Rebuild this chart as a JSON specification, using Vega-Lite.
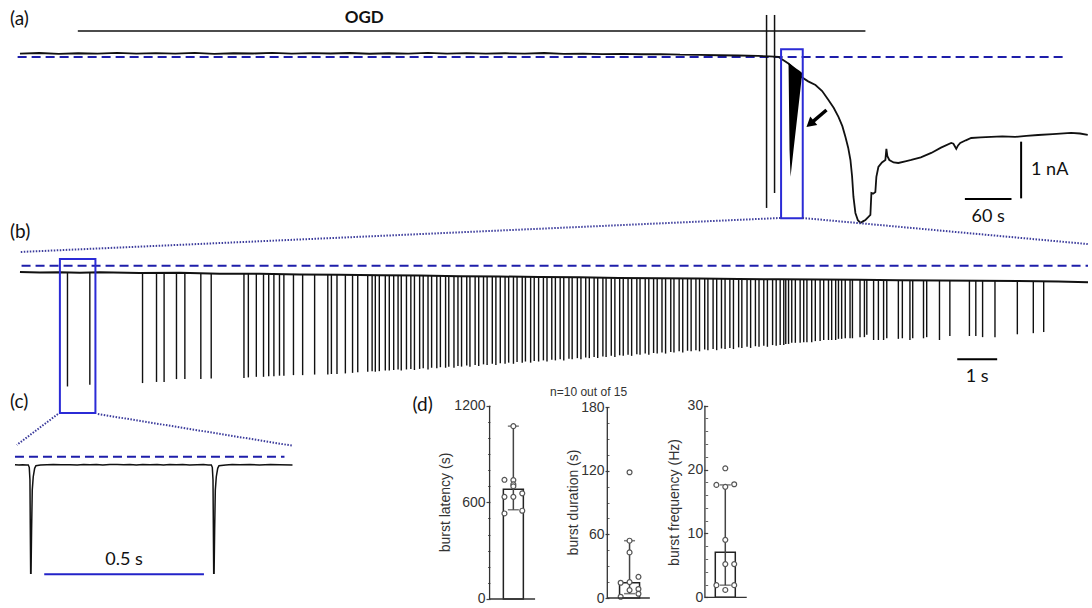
{
"$schema":"https://vega.github.io/schema/vega-lite/v6.json",
"width":1092,"height":608,
"autosize":{"type":"fit","contains":"padding"},
"padding":0,
"background":"white",
"config":{"view":{"stroke":null},"font":"Lato"},
"datasets":{
"traceA":[{"t":0,"I":0.06},{"t":25,"I":0.07},{"t":50,"I":0.055},{"t":75,"I":0.066},{"t":100,"I":0.06},{"t":125,"I":0.072},{"t":150,"I":0.058},{"t":175,"I":0.067},{"t":200,"I":0.06},{"t":225,"I":0.071},{"t":250,"I":0.056},{"t":275,"I":0.066},{"t":300,"I":0.061},{"t":325,"I":0.073},{"t":350,"I":0.058},{"t":375,"I":0.067},{"t":400,"I":0.061},{"t":425,"I":0.07},{"t":450,"I":0.057},{"t":475,"I":0.066},{"t":500,"I":0.06},{"t":525,"I":0.072},{"t":550,"I":0.06},{"t":575,"I":0.068},{"t":600,"I":0.058},{"t":625,"I":0.066},{"t":650,"I":0.06},{"t":675,"I":0.07},{"t":700,"I":0.055},{"t":725,"I":0.06},{"t":750,"I":0.05},{"t":775,"I":0.056},{"t":800,"I":0.048},{"t":825,"I":0.05},{"t":850,"I":0.04},{"t":875,"I":0.038},{"t":900,"I":0.03},{"t":925,"I":0.026},{"t":950,"I":0.018},{"t":965,"I":0.01},{"t":977,"I":0.0},{"t":980.7,"I":-0.035},{"t":990,"I":-0.12},{"t":1000,"I":-0.25},{"t":1006.4,"I":-0.353},{"t":1015,"I":-0.43},{"t":1024.4,"I":-0.494},{"t":1033,"I":-0.6},{"t":1041.1,"I":-0.758},{"t":1048,"I":-0.9},{"t":1054,"I":-1.058},{"t":1059,"I":-1.22},{"t":1063,"I":-1.411},{"t":1066.5,"I":-1.6},{"t":1069.4,"I":-1.817},{"t":1071.5,"I":-2.1},{"t":1073.3,"I":-2.469},{"t":1075.8,"I":-2.751},{"t":1079,"I":-2.88},{"t":1082.3,"I":-2.928},{"t":1085.5,"I":-2.9},{"t":1088.7,"I":-2.875},{"t":1092,"I":-2.83},{"t":1095.1,"I":-2.787},{"t":1096.4,"I":-2.399},{"t":1099,"I":-2.41},{"t":1101.5,"I":-2.381},{"t":1102.8,"I":-2.116},{"t":1105.4,"I":-1.94},{"t":1110,"I":-1.86},{"t":1114.4,"I":-1.817},{"t":1115.7,"I":-1.62},{"t":1117,"I":-1.75},{"t":1119.5,"I":-1.817},{"t":1125,"I":-1.86},{"t":1131.1,"I":-1.87},{"t":1140,"I":-1.84},{"t":1147.8,"I":-1.817},{"t":1160,"I":-1.77},{"t":1173.5,"I":-1.693},{"t":1186,"I":-1.6},{"t":1199.2,"I":-1.517},{"t":1202,"I":-1.53},{"t":1205.7,"I":-1.62},{"t":1208,"I":-1.56},{"t":1210.8,"I":-1.517},{"t":1218,"I":-1.47},{"t":1224.9,"I":-1.429},{"t":1237,"I":-1.42},{"t":1250.6,"I":-1.411},{"t":1265,"I":-1.4},{"t":1281.5,"I":-1.411},{"t":1296,"I":-1.39},{"t":1311.1,"I":-1.376},{"t":1330,"I":-1.36},{"t":1353.5,"I":-1.34},{"t":1365,"I":-1.35},{"t":1375,"I":-1.376}],
"artifactsA":[{"t":961.4,"top":0.741,"bottom":-2.663},{"t":971.7,"top":0.741,"bottom":-2.399}],
"burstA":[{"t":989.7,"top":-0.106,"bot":-0.123},{"t":991.0,"top":-0.118,"bot":-1.64},{"t":992.3,"top":-0.13,"bot":-2.111},{"t":996.1,"top":-0.169,"bot":-1.642},{"t":1000,"top":-0.206,"bot":-1.173},{"t":1003.9,"top":-0.245,"bot":-0.705},{"t":1007.3,"top":-0.282,"bot":-0.282}],
"baseB":[{"t":0,"I":-0.11},{"t":0.5,"I":-0.12},{"t":1,"I":-0.115},{"t":1.5,"I":-0.125},{"t":2,"I":-0.115},{"t":3,"I":-0.13},{"t":4,"I":-0.125},{"t":5,"I":-0.14},{"t":6,"I":-0.14},{"t":7,"I":-0.155},{"t":8,"I":-0.16},{"t":9,"I":-0.17},{"t":10,"I":-0.175},{"t":11,"I":-0.185},{"t":12,"I":-0.19},{"t":13,"I":-0.2},{"t":14,"I":-0.205},{"t":15,"I":-0.215},{"t":16,"I":-0.22},{"t":17,"I":-0.225},{"t":18,"I":-0.235},{"t":19,"I":-0.24},{"t":20,"I":-0.245},{"t":21,"I":-0.25},{"t":22,"I":-0.255},{"t":23,"I":-0.26},{"t":24,"I":-0.265},{"t":25,"I":-0.27},{"t":26,"I":-0.28},{"t":26.75,"I":-0.29}],
"spikesB":[{"t":1.19,"lo":-2.13,"base":-0.12},{"t":1.75,"lo":-2.1,"base":-0.12},{"t":3.07,"lo":-2.07,"base":-0.13},{"t":3.42,"lo":-2.05,"base":-0.13},{"t":3.61,"lo":-2.05,"base":-0.13},{"t":3.92,"lo":-2.0,"base":-0.135},{"t":4.13,"lo":-2.0,"base":-0.135},{"t":4.53,"lo":-2.0,"base":-0.14},{"t":4.79,"lo":-1.99,"base":-0.14},{"t":5.61,"lo":-1.98,"base":-0.145},{"t":5.72,"lo":-1.97,"base":-0.145},{"t":5.92,"lo":-1.96,"base":-0.145},{"t":6.1,"lo":-1.96,"base":-0.15},{"t":6.23,"lo":-1.95,"base":-0.15},{"t":6.36,"lo":-1.95,"base":-0.15},{"t":6.5,"lo":-1.94,"base":-0.15},{"t":6.61,"lo":-1.94,"base":-0.15},{"t":6.85,"lo":-1.93,"base":-0.155},{"t":7.08,"lo":-1.93,"base":-0.155},{"t":7.38,"lo":-1.92,"base":-0.16},{"t":7.71,"lo":-1.92,"base":-0.16},{"t":7.8,"lo":-1.91,"base":-0.16},{"t":7.94,"lo":-1.91,"base":-0.16},{"t":8.15,"lo":-1.9,"base":-0.165},{"t":8.33,"lo":-1.89,"base":-0.165},{"t":8.46,"lo":-1.88,"base":-0.165},{"t":8.71,"lo":-1.87,"base":-0.17},{"t":8.82,"lo":-1.86,"base":-0.17},{"t":8.9,"lo":-1.87,"base":-0.17},{"t":9.0,"lo":-1.86,"base":-0.17},{"t":9.15,"lo":-1.85,"base":-0.17},{"t":9.25,"lo":-1.85,"base":-0.17},
{"t":9.36,"lo":-1.84,"base":-0.17},{"t":9.47,"lo":-1.83,"base":-0.17},{"t":9.55,"lo":-1.85,"base":-0.17},{"t":9.68,"lo":-1.83,"base":-0.175},{"t":9.79,"lo":-1.82,"base":-0.175},{"t":9.88,"lo":-1.84,"base":-0.175},{"t":10.01,"lo":-1.82,"base":-0.175},{"t":10.1,"lo":-1.81,"base":-0.18},{"t":10.22,"lo":-1.83,"base":-0.18},{"t":10.31,"lo":-1.8,"base":-0.18},{"t":10.44,"lo":-1.81,"base":-0.18},{"t":10.53,"lo":-1.79,"base":-0.18},{"t":10.66,"lo":-1.8,"base":-0.185},{"t":10.74,"lo":-1.78,"base":-0.185},{"t":10.87,"lo":-1.8,"base":-0.185},{"t":10.97,"lo":-1.77,"base":-0.185},{"t":11.06,"lo":-1.78,"base":-0.185},{"t":11.19,"lo":-1.76,"base":-0.19},{"t":11.27,"lo":-1.78,"base":-0.19},{"t":11.4,"lo":-1.75,"base":-0.19},{"t":11.49,"lo":-1.77,"base":-0.19},{"t":11.61,"lo":-1.74,"base":-0.19},{"t":11.7,"lo":-1.75,"base":-0.19},{"t":11.83,"lo":-1.73,"base":-0.195},{"t":11.92,"lo":-1.75,"base":-0.195},{"t":12.03,"lo":-1.72,"base":-0.195},{"t":12.15,"lo":-1.73,"base":-0.195},{"t":12.24,"lo":-1.71,"base":-0.195},{"t":12.36,"lo":-1.73,"base":-0.2},{"t":12.45,"lo":-1.7,"base":-0.2},{"t":12.58,"lo":-1.71,"base":-0.2},{"t":12.66,"lo":-1.69,"base":-0.2},{"t":12.79,"lo":-1.71,"base":-0.2},{"t":12.88,"lo":-1.68,"base":-0.2},{"t":12.99,"lo":-1.69,"base":-0.205},{"t":13.11,"lo":-1.67,"base":-0.205},{"t":13.2,"lo":-1.69,"base":-0.205},{"t":13.32,"lo":-1.66,"base":-0.205},{"t":13.41,"lo":-1.67,"base":-0.205},{"t":13.53,"lo":-1.65,"base":-0.21},{"t":13.62,"lo":-1.67,"base":-0.21},{"t":13.75,"lo":-1.64,"base":-0.21},{"t":13.83,"lo":-1.65,"base":-0.21},{"t":13.96,"lo":-1.63,"base":-0.21},{"t":14.05,"lo":-1.65,"base":-0.21},{"t":14.17,"lo":-1.62,"base":-0.215},{"t":14.26,"lo":-1.63,"base":-0.215},{"t":14.38,"lo":-1.61,"base":-0.215},{"t":14.47,"lo":-1.63,"base":-0.215},{"t":14.6,"lo":-1.6,"base":-0.215},{"t":14.68,"lo":-1.61,"base":-0.215},{"t":14.81,"lo":-1.59,"base":-0.22},{"t":14.9,"lo":-1.61,"base":-0.22},{"t":15.02,"lo":-1.58,"base":-0.22},{"t":15.11,"lo":-1.59,"base":-0.22},{"t":15.23,"lo":-1.57,"base":-0.22},{"t":15.32,"lo":-1.59,"base":-0.22},{"t":15.45,"lo":-1.56,"base":-0.22},{"t":15.53,"lo":-1.57,"base":-0.225},{"t":15.66,"lo":-1.55,"base":-0.225},{"t":15.75,"lo":-1.57,"base":-0.225},{"t":15.87,"lo":-1.54,"base":-0.225},{"t":15.96,"lo":-1.55,"base":-0.225},{"t":16.08,"lo":-1.53,"base":-0.225},{"t":16.17,"lo":-1.55,"base":-0.225},{"t":16.3,"lo":-1.52,"base":-0.23},{"t":16.38,"lo":-1.53,"base":-0.23},{"t":16.51,"lo":-1.51,"base":-0.23},{"t":16.6,"lo":-1.53,"base":-0.23},{"t":16.72,"lo":-1.5,"base":-0.23},{"t":16.81,"lo":-1.51,"base":-0.23},{"t":16.93,"lo":-1.49,"base":-0.23},{"t":17.02,"lo":-1.51,"base":-0.23},{"t":17.15,"lo":-1.48,"base":-0.232},{"t":17.23,"lo":-1.49,"base":-0.232},{"t":17.36,"lo":-1.47,"base":-0.232},{"t":17.45,"lo":-1.49,"base":-0.232},{"t":17.57,"lo":-1.46,"base":-0.232},{"t":17.66,"lo":-1.47,"base":-0.232},{"t":17.78,"lo":-1.45,"base":-0.235},{"t":17.87,"lo":-1.47,"base":-0.235},{"t":18.0,"lo":-1.44,"base":-0.235},{"t":18.08,"lo":-1.45,"base":-0.235},{"t":18.21,"lo":-1.43,"base":-0.235},{"t":18.3,"lo":-1.45,"base":-0.235},{"t":18.42,"lo":-1.42,"base":-0.235},{"t":18.51,"lo":-1.43,"base":-0.235},{"t":18.63,"lo":-1.41,"base":-0.237},{"t":18.72,"lo":-1.43,"base":-0.237},{"t":18.85,"lo":-1.4,"base":-0.237},{"t":18.94,"lo":-1.41,"base":-0.237},
{"t":19.04,"lo":-1.4,"base":-0.24},{"t":19.13,"lo":-1.4,"base":-0.24},{"t":19.18,"lo":-1.38,"base":-0.24},{"t":19.25,"lo":-1.38,"base":-0.24},{"t":19.33,"lo":-1.36,"base":-0.24},{"t":19.42,"lo":-1.36,"base":-0.24},{"t":19.54,"lo":-1.36,"base":-0.242},{"t":19.63,"lo":-1.35,"base":-0.242},{"t":19.71,"lo":-1.35,"base":-0.242},{"t":19.83,"lo":-1.35,"base":-0.244},{"t":19.92,"lo":-1.33,"base":-0.244},{"t":20.04,"lo":-1.33,"base":-0.245},{"t":20.13,"lo":-1.31,"base":-0.245},{"t":20.25,"lo":-1.31,"base":-0.246},{"t":20.33,"lo":-1.31,"base":-0.246},{"t":20.43,"lo":-1.31,"base":-0.247},{"t":20.5,"lo":-1.29,"base":-0.247},{"t":20.58,"lo":-1.29,"base":-0.248},{"t":20.67,"lo":-1.28,"base":-0.248},{"t":20.79,"lo":-1.28,"base":-0.249},{"t":20.85,"lo":-1.28,"base":-0.249},{"t":21.04,"lo":-1.26,"base":-0.25},{"t":21.15,"lo":-1.26,"base":-0.251},{"t":21.21,"lo":-1.22,"base":-0.251},{"t":21.38,"lo":-1.31,"base":-0.252},{"t":21.5,"lo":-1.31,"base":-0.252},{"t":21.63,"lo":-1.31,"base":-0.253},{"t":21.71,"lo":-1.28,"base":-0.254},{"t":22.0,"lo":-1.29,"base":-0.255},{"t":22.1,"lo":-1.28,"base":-0.255},{"t":22.29,"lo":-1.31,"base":-0.256},{"t":22.36,"lo":-1.28,"base":-0.257},{"t":22.63,"lo":-1.28,"base":-0.258},{"t":22.71,"lo":-1.26,"base":-0.259},{"t":23.03,"lo":-1.31,"base":-0.26},{"t":23.29,"lo":-1.24,"base":-0.261},{"t":23.78,"lo":-1.24,"base":-0.264},{"t":23.94,"lo":-1.24,"base":-0.265},{"t":24.11,"lo":-1.26,"base":-0.266},{"t":24.42,"lo":-1.26,"base":-0.267},{"t":24.98,"lo":-1.21,"base":-0.27},{"t":25.38,"lo":-1.19,"base":-0.272},{"t":25.64,"lo":-1.17,"base":-0.274}],
"traceC":[{"t":0,"I":-0.14},{"t":12,"I":-0.145},{"t":24,"I":-0.14},{"t":36,"I":-0.145},{"t":41.6,"I":-0.146},{"t":44.7,"I":-0.187},{"t":46.9,"I":-0.411},{"t":47.8,"I":-1.116},{"t":49.1,"I":-2.056},{"t":50.3,"I":-2.056},{"t":52,"I":-1.3},{"t":54.1,"I":-0.589},{"t":57.2,"I":-0.353},{"t":61.6,"I":-0.205},{"t":65.6,"I":-0.159},{"t":80,"I":-0.148},{"t":100,"I":-0.143},{"t":120,"I":-0.138},{"t":145,"I":-0.143},{"t":171.9,"I":-0.14},{"t":195,"I":-0.146},{"t":215,"I":-0.136},{"t":234.4,"I":-0.142},{"t":255,"I":-0.138},{"t":275,"I":-0.145},{"t":296.9,"I":-0.139},{"t":320,"I":-0.135},{"t":340,"I":-0.142},{"t":359.4,"I":-0.138},{"t":380,"I":-0.145},{"t":400,"I":-0.136},{"t":421.9,"I":-0.142},{"t":445,"I":-0.139},{"t":465,"I":-0.146},{"t":484.4,"I":-0.139},{"t":505,"I":-0.143},{"t":525,"I":-0.139},{"t":546.9,"I":-0.146},{"t":570,"I":-0.142},{"t":590,"I":-0.139},{"t":605,"I":-0.145},{"t":614.7,"I":-0.146},{"t":617.8,"I":-0.187},{"t":620,"I":-0.411},{"t":620.9,"I":-1.116},{"t":622.2,"I":-2.056},{"t":623.4,"I":-2.056},{"t":625.1,"I":-1.3},{"t":627.2,"I":-0.589},{"t":630.3,"I":-0.353},{"t":634.7,"I":-0.205},{"t":638.7,"I":-0.159},{"t":660,"I":-0.145},{"t":680,"I":-0.139},{"t":703.1,"I":-0.143},{"t":735,"I":-0.137},{"t":765.6,"I":-0.145},{"t":800,"I":-0.139},{"t":828.1,"I":-0.143},{"t":868.8,"I":-0.146}],
"latency":[{"col":0,"value":1073},{"col":-1,"value":740},{"col":0,"value":738},{"col":0,"value":712},{"col":0,"value":700},{"col":1,"value":656},{"col":-1,"value":634},{"col":0,"value":634},{"col":1,"value":548},{"col":-1,"value":531}],
"duration":[{"col":0,"value":118.5},{"col":0,"value":54},{"col":0,"value":43},{"col":1,"value":20},{"col":0,"value":15},{"col":-1,"value":14.4},{"col":1,"value":8.5},{"col":0,"value":7.5},{"col":1,"value":4},{"col":-1,"value":1.2}],
"frequency":[{"col":0,"value":20.2},{"col":-1,"value":17.6},{"col":0,"value":17.3},{"col":1,"value":17.7},{"col":0,"value":9.0},{"col":0,"value":5.2},{"col":1,"value":5.2},{"col":-1,"value":1.9},{"col":1,"value":1.9},{"col":0,"value":1.15}],
"sumLatency":[{"median":681,"lo":554,"hi":1073}],
"sumDuration":[{"median":14.4,"lo":4.1,"hi":54}],
"sumFrequency":[{"median":7.05,"lo":1.9,"hi":17.6}]
},
"layer":[
{"layer":[
 {"data":{"values":[{}]},"mark":{"type":"text","text":"(a)","fontSize":19,"align":"left","baseline":"middle","font":"Lato","color":"#111"},
  "encoding":{"x":{"datum":-12.85,"type":"quantitative","scale":{"domain":[-25.7,1377.9],"nice":false,"zero":false},"axis":null},"y":{"datum":0.67,"type":"quantitative","scale":{"domain":[-9.72,1.005],"nice":false,"zero":false},"axis":null}}},
 {"data":{"values":[{"phase":"OGD","start":74.5,"end":1088.7,"mid":443.4}]},"mark":{"type":"rule","color":"#111","strokeWidth":1.6},
  "encoding":{"x":{"field":"start","type":"quantitative","scale":{"domain":[-25.7,1377.9],"nice":false,"zero":false},"axis":null},"x2":{"field":"end"},"y":{"datum":0.459,"type":"quantitative","scale":{"domain":[-9.72,1.005],"nice":false,"zero":false},"axis":null}}},
 {"data":{"values":[{"phase":"OGD","start":74.5,"end":1088.7,"mid":443.4}]},"mark":{"type":"text","fontSize":17,"fontWeight":"bold","font":"Lato","align":"center","baseline":"middle","color":"#111"},
  "encoding":{"x":{"field":"mid","type":"quantitative","scale":{"domain":[-25.7,1377.9],"nice":false,"zero":false},"axis":null},"y":{"datum":0.69,"type":"quantitative","scale":{"domain":[-9.72,1.005],"nice":false,"zero":false},"axis":null},"text":{"field":"phase"}}},
 {"data":{"values":[{}]},"mark":{"type":"rule","color":"#1e1eaa","strokeWidth":2,"strokeDash":[9,5]},
  "encoding":{"x":{"datum":-3,"type":"quantitative","scale":{"domain":[-25.7,1377.9],"nice":false,"zero":false},"axis":null},"x2":{"datum":1345},"y":{"datum":0,"type":"quantitative","scale":{"domain":[-9.72,1.005],"nice":false,"zero":false},"axis":null}}},
 {"data":{"name":"traceA"},"mark":{"type":"line","color":"#111","strokeWidth":1.8},
  "encoding":{"x":{"field":"t","type":"quantitative","scale":{"domain":[-25.7,1377.9],"nice":false,"zero":false},"axis":null},"y":{"field":"I","type":"quantitative","scale":{"domain":[-9.72,1.005],"nice":false,"zero":false},"axis":null}}},
 {"data":{"name":"artifactsA"},"mark":{"type":"rule","color":"#111","strokeWidth":1.5},
  "encoding":{"x":{"field":"t","type":"quantitative","scale":{"domain":[-25.7,1377.9],"nice":false,"zero":false},"axis":null},"y":{"field":"top","type":"quantitative","scale":{"domain":[-9.72,1.005],"nice":false,"zero":false},"axis":null},"y2":{"field":"bottom"}}},
 {"data":{"name":"burstA"},"mark":{"type":"area","color":"#000"},
  "encoding":{"x":{"field":"t","type":"quantitative","scale":{"domain":[-25.7,1377.9],"nice":false,"zero":false},"axis":null},"y":{"field":"top","type":"quantitative","scale":{"domain":[-9.72,1.005],"nice":false,"zero":false},"axis":null},"y2":{"field":"bot"}}},
 {"data":{"values":[{}]},"mark":{"type":"rect","fill":"transparent","stroke":"#2b2bd6","strokeWidth":2},
  "encoding":{"x":{"datum":980.1,"type":"quantitative","scale":{"domain":[-25.7,1377.9],"nice":false,"zero":false},"axis":null},"x2":{"datum":1008},"y":{"datum":0.136,"type":"quantitative","scale":{"domain":[-9.72,1.005],"nice":false,"zero":false},"axis":null},"y2":{"datum":-2.845}}},
 {"data":{"values":[{}]},"mark":{"type":"rule","color":"#000","strokeWidth":3.5},
  "encoding":{"x":{"datum":1038.6,"type":"quantitative","scale":{"domain":[-25.7,1377.9],"nice":false,"zero":false},"axis":null},"x2":{"datum":1020.6},"y":{"datum":-0.935,"type":"quantitative","scale":{"domain":[-9.72,1.005],"nice":false,"zero":false},"axis":null},"y2":{"datum":-1.146}}},
 {"data":{"values":[{}]},"mark":{"type":"point","shape":"triangle-up","filled":true,"color":"#000","size":120,"angle":230,"opacity":1},
  "encoding":{"x":{"datum":1017.5,"type":"quantitative","scale":{"domain":[-25.7,1377.9],"nice":false,"zero":false},"axis":null},"y":{"datum":-1.18,"type":"quantitative","scale":{"domain":[-9.72,1.005],"nice":false,"zero":false},"axis":null}}},
 {"data":{"values":[{}]},"mark":{"type":"rule","color":"#000","strokeWidth":2},
  "encoding":{"x":{"datum":1216.8,"type":"quantitative","scale":{"domain":[-25.7,1377.9],"nice":false,"zero":false},"axis":null},"x2":{"datum":1276.8},"y":{"datum":-2.504,"type":"quantitative","scale":{"domain":[-9.72,1.005],"nice":false,"zero":false},"axis":null}}},
 {"data":{"values":[{}]},"mark":{"type":"text","text":"60 s","fontSize":18,"font":"Lato","align":"center","baseline":"middle","color":"#111"},
  "encoding":{"x":{"datum":1246.8,"type":"quantitative","scale":{"domain":[-25.7,1377.9],"nice":false,"zero":false},"axis":null},"y":{"datum":-2.82,"type":"quantitative","scale":{"domain":[-9.72,1.005],"nice":false,"zero":false},"axis":null}}},
 {"data":{"values":[{}]},"mark":{"type":"rule","color":"#000","strokeWidth":2},
  "encoding":{"x":{"datum":1289.2,"type":"quantitative","scale":{"domain":[-25.7,1377.9],"nice":false,"zero":false},"axis":null},"y":{"datum":-1.494,"type":"quantitative","scale":{"domain":[-9.72,1.005],"nice":false,"zero":false},"axis":null},"y2":{"datum":-2.494}}},
 {"data":{"values":[{}]},"mark":{"type":"text","text":"1 nA","fontSize":18,"font":"Lato","align":"left","baseline":"middle","color":"#111"},
  "encoding":{"x":{"datum":1302,"type":"quantitative","scale":{"domain":[-25.7,1377.9],"nice":false,"zero":false},"axis":null},"y":{"datum":-1.99,"type":"quantitative","scale":{"domain":[-9.72,1.005],"nice":false,"zero":false},"axis":null}}},
 {"data":{"values":[{}]},"mark":{"type":"rule","color":"#3c3c9c","strokeWidth":2,"strokeDash":[1.5,1.5]},
  "encoding":{"x":{"datum":979.4,"type":"quantitative","scale":{"domain":[-25.7,1377.9],"nice":false,"zero":false},"axis":null},"x2":{"datum":0},"y":{"datum":-2.84,"type":"quantitative","scale":{"domain":[-9.72,1.005],"nice":false,"zero":false},"axis":null},"y2":{"datum":-3.44}}},
 {"data":{"values":[{}]},"mark":{"type":"rule","color":"#3c3c9c","strokeWidth":2,"strokeDash":[1.5,1.5]},
  "encoding":{"x":{"datum":1007.7,"type":"quantitative","scale":{"domain":[-25.7,1377.9],"nice":false,"zero":false},"axis":null},"x2":{"datum":1375},"y":{"datum":-2.84,"type":"quantitative","scale":{"domain":[-9.72,1.005],"nice":false,"zero":false},"axis":null},"y2":{"datum":-3.3}}}
]},
{"layer":[
 {"data":{"values":[{}]},"mark":{"type":"text","text":"(b)","fontSize":19,"align":"left","baseline":"middle","font":"Lato","color":"#111"},
  "encoding":{"x":{"datum":-0.25,"type":"quantitative","scale":{"domain":[-0.5,26.8],"nice":false,"zero":false},"axis":null},"y":{"datum":0.594,"type":"quantitative","scale":{"domain":[-6.037,4.686],"nice":false,"zero":false},"axis":null}}},
 {"data":{"values":[{}]},"mark":{"type":"rule","color":"#1e1eaa","strokeWidth":2,"strokeDash":[9,5]},
  "encoding":{"x":{"datum":0.04,"type":"quantitative","scale":{"domain":[-0.5,26.8],"nice":false,"zero":false},"axis":null},"x2":{"datum":26.75},"y":{"datum":0,"type":"quantitative","scale":{"domain":[-6.037,4.686],"nice":false,"zero":false},"axis":null}}},
 {"data":{"name":"spikesB"},"mark":{"type":"rule","color":"#111","strokeWidth":1.4},
  "encoding":{"x":{"field":"t","type":"quantitative","scale":{"domain":[-0.5,26.8],"nice":false,"zero":false},"axis":null},"y":{"field":"lo","type":"quantitative","scale":{"domain":[-6.037,4.686],"nice":false,"zero":false},"axis":null},"y2":{"field":"base"}}},
 {"data":{"name":"baseB"},"mark":{"type":"line","color":"#111","strokeWidth":2},
  "encoding":{"x":{"field":"t","type":"quantitative","scale":{"domain":[-0.5,26.8],"nice":false,"zero":false},"axis":null},"y":{"field":"I","type":"quantitative","scale":{"domain":[-6.037,4.686],"nice":false,"zero":false},"axis":null}}},
 {"data":{"values":[{}]},"mark":{"type":"rect","fill":"transparent","stroke":"#2b2bd6","strokeWidth":2},
  "encoding":{"x":{"datum":1.0,"type":"quantitative","scale":{"domain":[-0.5,26.8],"nice":false,"zero":false},"axis":null},"x2":{"datum":1.89},"y":{"datum":0.12,"type":"quantitative","scale":{"domain":[-6.037,4.686],"nice":false,"zero":false},"axis":null},"y2":{"datum":-2.598}}},
 {"data":{"values":[{}]},"mark":{"type":"rule","color":"#000","strokeWidth":2},
  "encoding":{"x":{"datum":23.475,"type":"quantitative","scale":{"domain":[-0.5,26.8],"nice":false,"zero":false},"axis":null},"x2":{"datum":24.475},"y":{"datum":-1.651,"type":"quantitative","scale":{"domain":[-6.037,4.686],"nice":false,"zero":false},"axis":null}}},
 {"data":{"values":[{}]},"mark":{"type":"text","text":"1 s","fontSize":18,"font":"Lato","align":"center","baseline":"middle","color":"#111"},
  "encoding":{"x":{"datum":23.975,"type":"quantitative","scale":{"domain":[-0.5,26.8],"nice":false,"zero":false},"axis":null},"y":{"datum":-1.963,"type":"quantitative","scale":{"domain":[-6.037,4.686],"nice":false,"zero":false},"axis":null}}},
 {"data":{"values":[{}]},"mark":{"type":"rule","color":"#3c3c9c","strokeWidth":2,"strokeDash":[1.5,1.5]},
  "encoding":{"x":{"datum":0.95,"type":"quantitative","scale":{"domain":[-0.5,26.8],"nice":false,"zero":false},"axis":null},"x2":{"datum":-0.08},"y":{"datum":-2.616,"type":"quantitative","scale":{"domain":[-6.037,4.686],"nice":false,"zero":false},"axis":null},"y2":{"datum":-3.162}}},
 {"data":{"values":[{}]},"mark":{"type":"rule","color":"#3c3c9c","strokeWidth":2,"strokeDash":[1.5,1.5]},
  "encoding":{"x":{"datum":1.95,"type":"quantitative","scale":{"domain":[-0.5,26.8],"nice":false,"zero":false},"axis":null},"x2":{"datum":6.83},"y":{"datum":-2.616,"type":"quantitative","scale":{"domain":[-6.037,4.686],"nice":false,"zero":false},"axis":null},"y2":{"datum":-3.175}}}
]},
{"layer":[
 {"data":{"values":[{}]},"mark":{"type":"text","text":"(c)","fontSize":19,"align":"left","baseline":"middle","font":"Lato","color":"#111"},
  "encoding":{"x":{"datum":-15.6,"type":"quantitative","scale":{"domain":[-46.875,3365.625],"nice":false,"zero":false},"axis":null},"y":{"datum":0.965,"type":"quantitative","scale":{"domain":[-2.668,8.055],"nice":false,"zero":false},"axis":null}}},
 {"data":{"values":[{}]},"mark":{"type":"rule","color":"#1e1eaa","strokeWidth":2,"strokeDash":[9,5]},
  "encoding":{"x":{"datum":0,"type":"quantitative","scale":{"domain":[-46.875,3365.625],"nice":false,"zero":false},"axis":null},"x2":{"datum":843.75},"y":{"datum":0,"type":"quantitative","scale":{"domain":[-2.668,8.055],"nice":false,"zero":false},"axis":null}}},
 {"data":{"name":"traceC"},"mark":{"type":"line","color":"#111","strokeWidth":1.5},
  "encoding":{"x":{"field":"t","type":"quantitative","scale":{"domain":[-46.875,3365.625],"nice":false,"zero":false},"axis":null},"y":{"field":"I","type":"quantitative","scale":{"domain":[-2.668,8.055],"nice":false,"zero":false},"axis":null}}},
 {"data":{"values":[{}]},"mark":{"type":"rule","color":"#2323c8","strokeWidth":2},
  "encoding":{"x":{"datum":91.6,"type":"quantitative","scale":{"domain":[-46.875,3365.625],"nice":false,"zero":false},"axis":null},"x2":{"datum":591.6},"y":{"datum":-2.074,"type":"quantitative","scale":{"domain":[-2.668,8.055],"nice":false,"zero":false},"axis":null}}},
 {"data":{"values":[{}]},"mark":{"type":"text","text":"0.5 s","fontSize":18,"font":"Lato","align":"center","baseline":"middle","color":"#111"},
  "encoding":{"x":{"datum":341.6,"type":"quantitative","scale":{"domain":[-46.875,3365.625],"nice":false,"zero":false},"axis":null},"y":{"datum":-1.822,"type":"quantitative","scale":{"domain":[-2.668,8.055],"nice":false,"zero":false},"axis":null}}}
]},
{"layer":[
 {"data":{"name":"sumLatency"},"mark":{"type":"bar","orient":"vertical","width":20,"fill":"white","stroke":"#222","strokeWidth":1.5},
  "encoding":{"x":{"datum":0,"type":"quantitative","scale":{"domain":[-57.11,64.22],"nice":false,"zero":false},"axis":null},
   "y":{"field":"median","type":"quantitative","scale":{"domain":[-55.9,3718.6],"nice":false,"zero":false},
    "axis":{"orient":"left","offset":-490,"values":[0,600,1200],"format":"d","domain":false,"grid":false,"tickSize":4,"tickColor":"#444","tickWidth":1.2,"labelFont":"Liberation Sans","labelFontSize":14,"labelColor":"#333","labelPadding":1,"title":"burst latency (s)","titleFont":"Liberation Sans","titleFontSize":14,"titleFontWeight":"normal","titleColor":"#333","titleX":-45,"titleY":502,"titleAngle":-90,"titleAlign":"center","titleBaseline":"middle"}},
   "y2":{"datum":0}}},
 {"data":{"name":"sumLatency"},"mark":{"type":"rule","color":"#444","strokeWidth":1.5},
  "encoding":{"x":{"datum":0,"type":"quantitative","scale":{"domain":[-57.11,64.22],"nice":false,"zero":false},"axis":null},"y":{"field":"lo","type":"quantitative","scale":{"domain":[-55.9,3718.6],"nice":false,"zero":false},"axis":null},"y2":{"field":"hi"}}},
 {"data":{"name":"sumLatency"},"mark":{"type":"tick","orient":"horizontal","size":11,"thickness":1.5,"color":"#444"},
  "encoding":{"x":{"datum":0,"type":"quantitative","scale":{"domain":[-57.11,64.22],"nice":false,"zero":false},"axis":null},"y":{"field":"lo","type":"quantitative","scale":{"domain":[-55.9,3718.6],"nice":false,"zero":false},"axis":null}}},
 {"data":{"name":"sumLatency"},"mark":{"type":"tick","orient":"horizontal","size":11,"thickness":1.5,"color":"#444"},
  "encoding":{"x":{"datum":0,"type":"quantitative","scale":{"domain":[-57.11,64.22],"nice":false,"zero":false},"axis":null},"y":{"field":"hi","type":"quantitative","scale":{"domain":[-55.9,3718.6],"nice":false,"zero":false},"axis":null}}},
 {"data":{"name":"latency"},"mark":{"type":"point","shape":"circle","filled":true,"fill":"white","stroke":"#555","strokeWidth":1.2,"size":24,"opacity":1},
  "encoding":{"x":{"field":"col","type":"quantitative","scale":{"domain":[-57.11,64.22],"nice":false,"zero":false},"axis":null},
   "y":{"field":"value","type":"quantitative","scale":{"domain":[-55.9,3718.6],"nice":false,"zero":false},
    "axis":{"orient":"left","offset":-490,"values":[100,200,300,400,500,700,800,900,1000,1100],"domain":false,"grid":false,"labels":false,"tickSize":2.5,"tickColor":"#666","tickWidth":1,"title":null}}}},
 {"data":{"values":[{}]},"mark":{"type":"rule","color":"#333","strokeWidth":1.3},
  "encoding":{"x":{"datum":-2.67,"type":"quantitative","scale":{"domain":[-57.11,64.22],"nice":false,"zero":false},"axis":null},"y":{"datum":0,"type":"quantitative","scale":{"domain":[-55.9,3718.6],"nice":false,"zero":false},"axis":null},"y2":{"datum":1200}}},
 {"data":{"values":[{}]},"mark":{"type":"rule","color":"#333","strokeWidth":1.3},
  "encoding":{"x":{"datum":-2.67,"type":"quantitative","scale":{"domain":[-57.11,64.22],"nice":false,"zero":false},"axis":null},"x2":{"datum":2.44},"y":{"datum":0,"type":"quantitative","scale":{"domain":[-55.9,3718.6],"nice":false,"zero":false},"axis":null}}},
 {"data":{"values":[{}]},"mark":{"type":"text","text":"(d)","fontSize":19,"align":"left","baseline":"middle","font":"Lato","color":"#111"},
  "encoding":{"x":{"datum":-11.33,"type":"quantitative","scale":{"domain":[-57.11,64.22],"nice":false,"zero":false},"axis":null},"y":{"datum":1204,"type":"quantitative","scale":{"domain":[-55.9,3718.6],"nice":false,"zero":false},"axis":null}}}
],"resolve":{"axis":{"y":"independent"}}},
{"layer":[
 {"data":{"name":"sumDuration"},"mark":{"type":"bar","orient":"vertical","width":20,"fill":"white","stroke":"#222","strokeWidth":1.5},
  "encoding":{"x":{"datum":0,"type":"quantitative","scale":{"domain":[-70.17,51.17],"nice":false,"zero":false},"axis":null},
   "y":{"field":"median","type":"quantitative","scale":{"domain":[-9.42,563.56],"nice":false,"zero":false},
    "axis":{"orient":"left","offset":-609,"values":[0,60,120,180],"format":"d","domain":false,"grid":false,"tickSize":4,"tickColor":"#444","tickWidth":1.2,"labelFont":"Liberation Sans","labelFontSize":14,"labelColor":"#333","labelPadding":1,"title":"burst duration (s)","titleFont":"Liberation Sans","titleFontSize":14,"titleFontWeight":"normal","titleColor":"#333","titleX":-36,"titleY":502,"titleAngle":-90,"titleAlign":"center","titleBaseline":"middle"}},
   "y2":{"datum":0}}},
 {"data":{"name":"sumDuration"},"mark":{"type":"rule","color":"#444","strokeWidth":1.5},
  "encoding":{"x":{"datum":0,"type":"quantitative","scale":{"domain":[-70.17,51.17],"nice":false,"zero":false},"axis":null},"y":{"field":"lo","type":"quantitative","scale":{"domain":[-9.42,563.56],"nice":false,"zero":false},"axis":null},"y2":{"field":"hi"}}},
 {"data":{"name":"sumDuration"},"mark":{"type":"tick","orient":"horizontal","size":11,"thickness":1.5,"color":"#444"},
  "encoding":{"x":{"datum":0,"type":"quantitative","scale":{"domain":[-70.17,51.17],"nice":false,"zero":false},"axis":null},"y":{"field":"lo","type":"quantitative","scale":{"domain":[-9.42,563.56],"nice":false,"zero":false},"axis":null}}},
 {"data":{"name":"sumDuration"},"mark":{"type":"tick","orient":"horizontal","size":11,"thickness":1.5,"color":"#444"},
  "encoding":{"x":{"datum":0,"type":"quantitative","scale":{"domain":[-70.17,51.17],"nice":false,"zero":false},"axis":null},"y":{"field":"hi","type":"quantitative","scale":{"domain":[-9.42,563.56],"nice":false,"zero":false},"axis":null}}},
 {"data":{"name":"duration"},"mark":{"type":"point","shape":"circle","filled":true,"fill":"white","stroke":"#555","strokeWidth":1.2,"size":24,"opacity":1},
  "encoding":{"x":{"field":"col","type":"quantitative","scale":{"domain":[-70.17,51.17],"nice":false,"zero":false},"axis":null},
   "y":{"field":"value","type":"quantitative","scale":{"domain":[-9.42,563.56],"nice":false,"zero":false},
    "axis":{"orient":"left","offset":-609,"values":[15,30,45,75,90,105,135,150,165],"domain":false,"grid":false,"labels":false,"tickSize":2.5,"tickColor":"#666","tickWidth":1,"title":null}}}},
 {"data":{"values":[{}]},"mark":{"type":"rule","color":"#333","strokeWidth":1.3},
  "encoding":{"x":{"datum":-2.5,"type":"quantitative","scale":{"domain":[-70.17,51.17],"nice":false,"zero":false},"axis":null},"y":{"datum":0,"type":"quantitative","scale":{"domain":[-9.42,563.56],"nice":false,"zero":false},"axis":null},"y2":{"datum":180}}},
 {"data":{"values":[{}]},"mark":{"type":"rule","color":"#333","strokeWidth":1.3},
  "encoding":{"x":{"datum":-2.5,"type":"quantitative","scale":{"domain":[-70.17,51.17],"nice":false,"zero":false},"axis":null},"x2":{"datum":2.28},"y":{"datum":0,"type":"quantitative","scale":{"domain":[-9.42,563.56],"nice":false,"zero":false},"axis":null}}},
 {"data":{"values":[{}]},"mark":{"type":"text","text":"n=10 out of 15","fontSize":12,"align":"center","baseline":"middle","font":"Liberation Sans","color":"#333"},
  "encoding":{"x":{"datum":-4.6,"type":"quantitative","scale":{"domain":[-70.17,51.17],"nice":false,"zero":false},"axis":null},"y":{"datum":194.5,"type":"quantitative","scale":{"domain":[-9.42,563.56],"nice":false,"zero":false},"axis":null}}}
],"resolve":{"axis":{"y":"independent"}}},
{"layer":[
 {"data":{"name":"sumFrequency"},"mark":{"type":"bar","orient":"vertical","width":20,"fill":"white","stroke":"#222","strokeWidth":1.5},
  "encoding":{"x":{"datum":0,"type":"quantitative","scale":{"domain":[-80.92,40.41],"nice":false,"zero":false},"axis":null},
   "y":{"field":"median","type":"quantitative","scale":{"domain":[-1.675,93.52],"nice":false,"zero":false},
    "axis":{"orient":"left","offset":-707.7,"values":[0,10,20,30],"format":"d","domain":false,"grid":false,"tickSize":4,"tickColor":"#444","tickWidth":1.2,"labelFont":"Liberation Sans","labelFontSize":14,"labelColor":"#333","labelPadding":1,"title":"burst frequency (Hz)","titleFont":"Liberation Sans","titleFontSize":14,"titleFontWeight":"normal","titleColor":"#333","titleX":-33,"titleY":502,"titleAngle":-90,"titleAlign":"center","titleBaseline":"middle"}},
   "y2":{"datum":0}}},
 {"data":{"name":"sumFrequency"},"mark":{"type":"rule","color":"#444","strokeWidth":1.5},
  "encoding":{"x":{"datum":0,"type":"quantitative","scale":{"domain":[-80.92,40.41],"nice":false,"zero":false},"axis":null},"y":{"field":"lo","type":"quantitative","scale":{"domain":[-1.675,93.52],"nice":false,"zero":false},"axis":null},"y2":{"field":"hi"}}},
 {"data":{"name":"sumFrequency"},"mark":{"type":"tick","orient":"horizontal","size":11,"thickness":1.5,"color":"#444"},
  "encoding":{"x":{"datum":0,"type":"quantitative","scale":{"domain":[-80.92,40.41],"nice":false,"zero":false},"axis":null},"y":{"field":"lo","type":"quantitative","scale":{"domain":[-1.675,93.52],"nice":false,"zero":false},"axis":null}}},
 {"data":{"name":"sumFrequency"},"mark":{"type":"tick","orient":"horizontal","size":11,"thickness":1.5,"color":"#444"},
  "encoding":{"x":{"datum":0,"type":"quantitative","scale":{"domain":[-80.92,40.41],"nice":false,"zero":false},"axis":null},"y":{"field":"hi","type":"quantitative","scale":{"domain":[-1.675,93.52],"nice":false,"zero":false},"axis":null}}},
 {"data":{"name":"frequency"},"mark":{"type":"point","shape":"circle","filled":true,"fill":"white","stroke":"#555","strokeWidth":1.2,"size":24,"opacity":1},
  "encoding":{"x":{"field":"col","type":"quantitative","scale":{"domain":[-80.92,40.41],"nice":false,"zero":false},"axis":null},
   "y":{"field":"value","type":"quantitative","scale":{"domain":[-1.675,93.52],"nice":false,"zero":false},
    "axis":{"orient":"left","offset":-707.7,"values":[2,4,6,8,12,14,16,18,22,24,26,28],"domain":false,"grid":false,"labels":false,"tickSize":2.5,"tickColor":"#666","tickWidth":1,"title":null}}}},
 {"data":{"values":[{}]},"mark":{"type":"rule","color":"#333","strokeWidth":1.3},
  "encoding":{"x":{"datum":-2.29,"type":"quantitative","scale":{"domain":[-80.92,40.41],"nice":false,"zero":false},"axis":null},"y":{"datum":0,"type":"quantitative","scale":{"domain":[-1.675,93.52],"nice":false,"zero":false},"axis":null},"y2":{"datum":30}}},
 {"data":{"values":[{}]},"mark":{"type":"rule","color":"#333","strokeWidth":1.3},
  "encoding":{"x":{"datum":-2.29,"type":"quantitative","scale":{"domain":[-80.92,40.41],"nice":false,"zero":false},"axis":null},"x2":{"datum":2.41},"y":{"datum":0,"type":"quantitative","scale":{"domain":[-1.675,93.52],"nice":false,"zero":false},"axis":null}}}
],"resolve":{"axis":{"y":"independent"}}}
],
"resolve":{"scale":{"x":"independent","y":"independent"},"axis":{"x":"independent","y":"independent"}}
}
